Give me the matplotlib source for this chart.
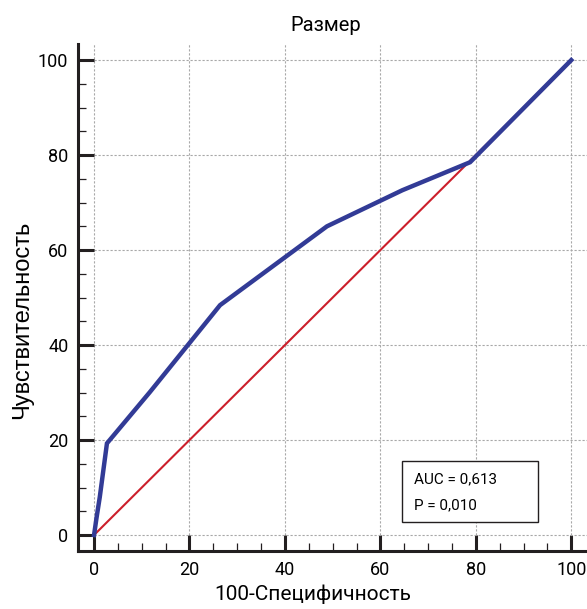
import numpy as np
import matplotlib.pyplot as plt
from matplotlib.patches import Rectangle
from matplotlib.ticker import MultipleLocator

# ROC curve for the "size" predictor
fpr = [0, 0.5, 1.2, 2.7, 11.7, 26.4, 48.8, 64.6, 78.8, 100]
tpr = [0, 3.5, 8.0, 19.3, 30.1, 48.4, 65.0, 72.6, 78.5, 100]
diag = [0, 100]
auc_lines = ["AUC = 0,613", "P = 0,010"]

plt.rcParams['font.family'] = ['Roboto', 'DejaVu Sans']

fig = plt.figure(figsize=(5.87, 6.09), dpi=100)
ax = fig.add_axes([0.133, 0.0952, 0.867, 0.8326])

ax.plot(diag, diag, color='#cc1f2b', lw=1.5, zorder=3)
ax.plot(fpr, tpr, color='#323b96', lw=3.2, zorder=4, solid_joinstyle='miter')

ax.set_xlim(-3.35, 103.3)
ax.set_ylim(-3.37, 103.4)
ax.xaxis.set_major_locator(MultipleLocator(20))
ax.yaxis.set_major_locator(MultipleLocator(20))
ax.xaxis.set_minor_locator(MultipleLocator(5))
ax.yaxis.set_minor_locator(MultipleLocator(5))

ax.grid(True, which='major', color='#a8a8a8', lw=0.8, linestyle=(0, (2, 1.6)))
ax.set_axisbelow(True)

for s in ['top', 'right']:
    ax.spines[s].set_visible(False)
for s in ['left', 'bottom']:
    ax.spines[s].set_linewidth(2.2)
    ax.spines[s].set_color('#231f20')

ax.tick_params(which='major', direction='in', length=11.5, width=2.2,
               color='#231f20', labelsize=13, pad=7)
ax.tick_params(which='minor', direction='in', length=6, width=0.9,
               color='#231f20')

ax.set_title("Размер", fontsize=14.5, pad=9, x=0.487)
ax.set_xlabel("100-Специфичность", fontsize=15)
ax.xaxis.set_label_coords(0.462, -0.066)
ax.set_ylabel("Чувствительность", fontsize=17,
              family=['Liberation Sans', 'DejaVu Sans'])
ax.yaxis.set_label_coords(-0.088, 0.456)

# stats box
ax.add_patch(Rectangle((64.6, 2.7), 28.5, 12.9, fc='white', ec='#231f20',
                       lw=1, zorder=5))
ax.text(67.0, 11.8, auc_lines[0], fontsize=11, va='center', ha='left', zorder=6)
ax.text(67.0, 6.3, auc_lines[1], fontsize=11, va='center', ha='left', zorder=6)

fig.savefig("out.png", dpi=100)
